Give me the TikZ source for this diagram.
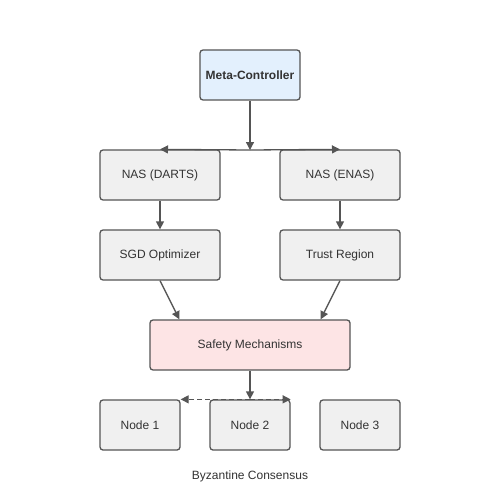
\documentclass[tikz,border=0pt]{standalone}
\usepackage{fontspec}
\setmainfont{Liberation Sans}
\usepackage{xcolor}
\usetikzlibrary{arrows.meta}
\definecolor{edge}{HTML}{555555}
\definecolor{boxfill}{HTML}{F0F0F0}
\definecolor{metafill}{HTML}{E3F0FD}
\definecolor{safefill}{HTML}{FDE4E5}
\definecolor{txt}{HTML}{333333}

\begin{document}
\begin{tikzpicture}[x=1pt,y=-1pt,
    box/.style={draw=edge, line width=1.3pt, fill=boxfill, rounded corners=3pt,
      minimum height=50pt, inner sep=0pt, text=txt, font=\fontsize{12}{14}\selectfont},
    arr/.style={draw=edge, line width=1.3pt, -{Triangle[length=8pt,width=8pt]}}]
    \useasboundingbox (0,0) rectangle (500,500);
    \node[box, fill=metafill, minimum width=100pt, font=\fontsize{12}{14}\selectfont\bfseries] (m) at (250,75) {Meta-Controller};
    \node[box, minimum width=120pt] (d) at (160,175) {NAS (DARTS)};
    \node[box, minimum width=120pt] (e) at (340,175) {NAS (ENAS)};
    \node[box, minimum width=120pt] (g) at (160,255) {SGD Optimizer};
    \node[box, minimum width=120pt] (t) at (340,255) {Trust Region};
    \node[box, fill=safefill, minimum width=200pt] (s) at (250,345) {Safety Mechanisms};
    \node[box, minimum width=80pt] (n1) at (140,425) {Node 1};
    \node[box, minimum width=80pt] (n2) at (250,425) {Node 2};
    \node[box, minimum width=80pt] (n3) at (360,425) {Node 3};
    \node[text=txt, font=\fontsize{12}{14}\selectfont] (bc) at (250,476) {Byzantine Consensus};
    \coordinate (j) at (250,150);
    \draw[arr] (m) -- (j);
    \draw[arr] (j) -- (d.north);
    \draw[arr] (j) -- (e.north);
    \draw[arr] (d) -- (g);
    \draw[arr] (e) -- (t);
    \draw[arr] (g.south) -- ([xshift=30pt]s.north west);
    \draw[arr] (t.south) -- ([xshift=-30pt]s.north east);
    \draw[arr] (s) -- (n2.north);
    \draw[arr, dash pattern=on 5pt off 3pt] (n2.north) -- (n1.north east);
    \draw[arr, dash pattern=on 5pt off 3pt] (n2.north) -- (n2.north east);
  \end{tikzpicture}
\end{document}
